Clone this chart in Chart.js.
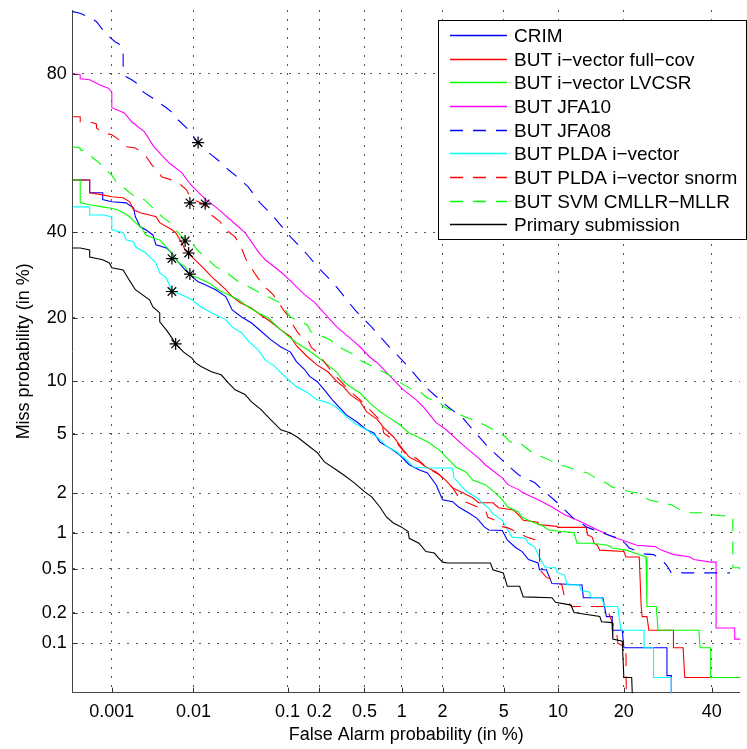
<!DOCTYPE html>
<html>
<head>
<meta charset="utf-8">
<script src="https://cdn.jsdelivr.net/npm/chart.js@4.4.1/dist/chart.umd.min.js"></script>
<style>
  html, body { margin: 0; padding: 0; background: #fff; overflow: hidden; }
  canvas { display: block; }
</style>
</head>
<body>
<canvas id="c" width="747" height="749"></canvas>
<script>
// ---------------- data (percent) ----------------
const FA_TICKS   = [0.001, 0.01, 0.1, 0.2, 0.5, 1, 2, 5, 10, 20, 40];
const MISS_TICKS = [0.1, 0.2, 0.5, 1, 2, 5, 10, 20, 40, 80];
const FA_LIMITS   = [0.0003, 47.35];
const MISS_LIMITS = [0.03, 90];

const SERIES_NAMES = ['CRIM', 'BUT i\u2212vector full\u2212cov', 'BUT i\u2212vector LVCSR', 'BUT JFA10',
  'BUT JFA08', 'BUT PLDA i\u2212vector', 'BUT PLDA i\u2212vector snorm', 'BUT SVM CMLLR\u2212MLLR', 'Primary submission'];

// each series: [False alarm %, Miss %]
const CRIM = [[0.0003,54.3],[0.00051,54.3],[0.00051,50.8],[0.00076,50.8],[0.00076,48.9],[0.001,48.3],[0.00153,48],[0.0019,46.6],[0.002,44.2],[0.0023,41.5],[0.0027,40.7],[0.0033,39.3],[0.0036,36.7],[0.0048,35.9],[0.0056,34.6],[0.006,33.6],[0.0068,32.1],[0.008,30.4],[0.0096,28.8],[0.0113,27.6],[0.0136,26.9],[0.0178,25.8],[0.023,24.3],[0.027,21.5],[0.034,20.1],[0.043,19],[0.054,17.5],[0.068,16],[0.086,14.8],[0.107,14],[0.122,12.6],[0.146,11.5],[0.163,10.6],[0.192,9.95],[0.223,9],[0.263,7.93],[0.35,6.5],[0.43,5.92],[0.52,5.3],[0.6,5.07],[0.67,4.45],[0.8,4.08],[0.96,3.68],[1.14,3.16],[1.35,2.92],[1.56,2.78],[1.8,2.3],[2.0,1.79],[2.35,1.73],[2.58,1.58],[3.0,1.43],[3.4,1.3],[3.8,1.11],[4.05,1.05],[4.9,1.04],[5.25,0.875],[5.85,0.76],[6.4,0.7],[6.95,0.6],[7.85,0.56],[8.0,0.49],[8.7,0.49],[9.3,0.37],[13.1,0.36],[13.3,0.275],[16.3,0.275],[16.9,0.183],[17.9,0.183],[17.9,0.135],[19.7,0.135],[20,0.09],[29,0.09],[29,0.046],[30,0.046],[30,0.01]];
const FULLCOV = [[0.0003,54.3],[0.00051,54.3],[0.00051,50.8],[0.00076,50.2],[0.001,49.7],[0.0014,49.4],[0.0017,48.3],[0.0019,46.1],[0.0023,45.3],[0.003,44.7],[0.0036,44.2],[0.004,42.6],[0.0056,40.7],[0.0062,39.9],[0.0073,37.3],[0.008,35.4],[0.0088,34.4],[0.0096,33.6],[0.0113,32.1],[0.0136,30.4],[0.016,28.8],[0.019,27.4],[0.023,25.8],[0.027,24.3],[0.033,23],[0.043,21.9],[0.054,20.5],[0.068,19.2],[0.086,17.7],[0.107,16.5],[0.122,15],[0.155,13.3],[0.192,12.1],[0.24,11.2],[0.29,9.95],[0.33,9.35],[0.38,8.45],[0.46,7.75],[0.52,6.8],[0.64,6.1],[0.72,5.46],[0.86,4.8],[1.03,3.95],[1.14,3.55],[1.35,3.3],[1.52,3.05],[1.8,2.82],[2.1,2.48],[2.35,2.18],[2.75,2.01],[3.2,1.85],[3.5,1.7],[4.3,1.7],[4.65,1.56],[5.7,1.5],[6.1,1.38],[6.5,1.25],[7.85,1.21],[7.85,1.16],[9.85,1.12],[9.95,1.1],[13.7,1.1],[13.9,0.96],[14.6,0.92],[14.9,0.82],[15.4,0.79],[15.8,0.72],[20,0.7],[20.4,0.63],[23,0.63],[23.4,0.228],[23.6,0.183],[24.6,0.183],[25,0.135],[30.5,0.135],[30.5,0.09],[32.8,0.09],[33.2,0.044],[48,0.044]];
const LVCSR = [[0.0003,54.3],[0.00038,54.3],[0.00038,48],[0.00051,47.5],[0.00076,46.9],[0.00093,46.6],[0.00118,46.1],[0.0014,45.3],[0.0017,44.2],[0.002,42.6],[0.0024,41.2],[0.0027,39.3],[0.0033,38.5],[0.004,38],[0.0048,36.2],[0.0056,34.6],[0.0068,32.1],[0.008,31.2],[0.009,29.2],[0.0113,28.5],[0.0148,27.4],[0.019,25.8],[0.0245,24.7],[0.0315,23.6],[0.04,22.1],[0.051,20.9],[0.0645,19.9],[0.08,18.2],[0.1,16.7],[0.122,15.5],[0.155,14.4],[0.192,13.3],[0.24,12.1],[0.29,11.1],[0.33,9.95],[0.38,9.35],[0.46,8.65],[0.55,7.65],[0.67,6.8],[0.8,6.25],[0.96,5.7],[1.14,5.07],[1.35,4.75],[1.6,4.4],[1.9,3.95],[2.12,3.55],[2.47,3.05],[2.88,2.82],[3.2,2.48],[3.85,2.3],[4.45,2.01],[4.9,1.79],[5.3,1.58],[6.1,1.45],[6.4,1.32],[7.3,1.21],[8.25,1.14],[8.95,1.05],[10.4,1.02],[12.0,1.0],[12.4,0.82],[14.6,0.82],[17.1,0.79],[17.9,0.75],[20.4,0.72],[24.4,0.63],[24.6,0.228],[26.6,0.228],[27,0.135],[36.7,0.135],[37,0.09],[39.7,0.09],[39.7,0.044],[48,0.044]];
const JFA10 = [[0.0003,80],[0.00038,79.8],[0.00038,79],[0.00051,78.8],[0.00069,77.8],[0.0009,77.1],[0.001,76.3],[0.001,72.8],[0.00145,71.6],[0.0018,69.5],[0.0026,67],[0.0034,63.2],[0.0052,58.9],[0.0073,56.3],[0.0093,53],[0.0138,48.9],[0.0178,46.9],[0.0315,41.5],[0.037,39.9],[0.051,34.9],[0.06,32.9],[0.086,29.9],[0.104,28.1],[0.146,24.7],[0.182,23],[0.251,19.6],[0.29,18.2],[0.39,16],[0.46,14.8],[0.55,13.3],[0.64,12.4],[0.86,10.2],[1.03,9],[1.29,7.93],[1.45,7.25],[1.8,5.85],[2.12,5.3],[2.9,4.08],[3.5,3.5],[3.85,3.16],[4.9,2.57],[5.3,2.3],[6.1,2.12],[6.5,2.01],[8.25,1.73],[9.3,1.58],[10.8,1.38],[11.8,1.3],[13.3,1.19],[14.5,1.11],[17.1,0.96],[18.7,0.9],[21.4,0.82],[22.5,0.79],[26.4,0.77],[27.7,0.72],[30.6,0.66],[32,0.65],[34.5,0.63],[35.4,0.6],[39.8,0.57],[41.1,0.57],[41.1,0.142],[46,0.142],[46,0.11],[48,0.11]];
const JFA08 = [[0.0003,89.8],[0.00038,89.6],[0.00055,88.9],[0.00063,88.5],[0.00076,87.4],[0.0009,86.5],[0.0011,85.6],[0.0013,85.1],[0.0014,83.5],[0.0014,81.3],[0.00153,79.4],[0.0018,78.8],[0.0023,77.6],[0.0025,76.3],[0.0032,75.1],[0.0037,74.2],[0.0048,72.8],[0.0055,71.9],[0.0062,70.5],[0.0088,67.5],[0.0113,64.3],[0.0136,62.4],[0.02,59.2],[0.0245,57.1],[0.0315,54.9],[0.04,52.4],[0.053,48],[0.067,45.3],[0.077,43.4],[0.107,38.8],[0.15,34.6],[0.205,30.4],[0.263,27.6],[0.3,25.8],[0.415,21.5],[0.575,18.2],[0.8,14.8],[1.12,11.9],[1.5,9.35],[2.18,7.25],[2.75,6.25],[3.0,5.7],[4.0,4.15],[5.1,3.25],[6.1,2.7],[7.55,2.37],[8.25,2.12],[9.7,1.75],[12.0,1.28],[13.9,1.1],[17.1,0.96],[19.7,0.875],[21,0.75],[24,0.67],[26,0.66],[27.8,0.6],[29,0.53],[30,0.46],[44.7,0.46]];
const PLDA = [[0.0003,46.9],[0.00051,46.9],[0.00051,44.7],[0.00076,44.7],[0.001,44.2],[0.001,40.7],[0.0014,39.9],[0.00153,38],[0.0019,37.5],[0.002,36.2],[0.0027,34.6],[0.0036,32.1],[0.004,29.7],[0.0048,28.5],[0.0056,25.5],[0.0073,24.7],[0.0096,23.6],[0.0122,22.1],[0.0178,20.5],[0.023,19.6],[0.027,18.2],[0.034,17.2],[0.04,15.8],[0.051,14.3],[0.06,12.8],[0.074,12],[0.086,11.1],[0.1,10.3],[0.122,9.35],[0.155,8.7],[0.192,7.93],[0.24,7.65],[0.29,7.15],[0.35,6.35],[0.43,5.7],[0.52,5.3],[0.64,4.75],[0.77,4.15],[0.91,3.85],[1.09,3.4],[1.23,3.05],[1.52,3.0],[2.35,3.0],[2.4,2.57],[2.88,2.08],[3.4,1.85],[3.8,1.64],[4.05,1.55],[4.3,1.4],[4.9,1.25],[5.3,1.05],[5.6,0.92],[6.7,0.9],[6.95,0.82],[7.55,0.76],[8.0,0.62],[8.6,0.51],[9.7,0.51],[9.95,0.46],[10.8,0.44],[11.1,0.36],[12.7,0.36],[13,0.32],[14.2,0.31],[14.5,0.275],[16.1,0.275],[16.6,0.228],[18.9,0.228],[19.1,0.183],[19.5,0.135],[24,0.135],[24,0.09],[26,0.09],[26,0.044],[30,0.044],[30,0.01]];
const SNORM = [[0.0003,70.7],[0.00038,70.7],[0.00038,69.5],[0.00055,69.3],[0.00063,68.9],[0.00063,68],[0.00076,66.8],[0.001,66.3],[0.0014,64.3],[0.00153,63.2],[0.002,62.9],[0.0024,61.7],[0.0028,60.3],[0.0032,58.4],[0.0037,57.1],[0.0042,55.2],[0.0056,54.3],[0.0071,53],[0.0083,51.6],[0.0093,49.4],[0.01,48.9],[0.0136,47.5],[0.0148,45.3],[0.02,42.8],[0.023,40.7],[0.029,38.8],[0.033,36.6],[0.038,32.9],[0.043,30.9],[0.048,29.2],[0.054,27.6],[0.061,26.2],[0.072,24.7],[0.095,21],[0.104,20.1],[0.113,18.6],[0.124,17.4],[0.13,16.9],[0.16,15.6],[0.17,14.7],[0.19,14],[0.205,13.3],[0.26,11.2],[0.38,8.8],[0.46,7.93],[0.69,5.92],[0.72,5.07],[0.86,4.58],[0.94,4.28],[1.05,3.8],[1.14,3.55],[1.29,3.5],[1.56,3.0],[1.9,2.7],[2.35,2.18],[2.6,1.85],[2.88,1.72],[3.45,1.58],[3.85,1.5],[4.0,1.32],[4.45,1.25],[4.95,1.11],[5.3,1.09],[6.1,1.0],[6.8,0.92],[7.55,0.875],[8.0,0.76],[8.0,0.49],[8.7,0.42],[9.4,0.4],[10.45,0.36],[10.8,0.275],[11.7,0.228],[16.9,0.228],[17.1,0.213],[17.9,0.16],[18.7,0.125],[18.9,0.1],[20.4,0.09],[20.5,0.01]];
const SVM = [[0.0003,63.2],[0.00038,62.9],[0.00038,62.4],[0.00051,61.7],[0.00056,60.3],[0.00069,58.9],[0.0008,57.4],[0.001,55.6],[0.00118,53.3],[0.00145,52.1],[0.0017,50.8],[0.0021,49.4],[0.0026,48.9],[0.0032,46.9],[0.0037,45.6],[0.0044,43.9],[0.0052,42.8],[0.0062,40.7],[0.0073,38.8],[0.0093,38],[0.011,35.4],[0.0136,33.6],[0.0178,31.2],[0.023,29.9],[0.0315,27.6],[0.04,26.5],[0.051,25.3],[0.0645,24.2],[0.084,23],[0.107,20.1],[0.155,18.6],[0.167,17.4],[0.251,16],[0.3,14.8],[0.41,13.6],[0.48,12.6],[0.66,11.5],[0.79,10.8],[1.03,9.6],[1.22,9],[1.4,8.7],[1.56,8.1],[1.9,7.7],[2.05,7.25],[2.47,6.7],[2.88,6.3],[3.2,6.1],[3.65,5.78],[4.6,5.15],[5.1,4.8],[5.45,4.45],[6.2,4.4],[7.3,3.8],[8.35,3.55],[9.1,3.38],[10,3.16],[11.1,3.06],[12.3,2.9],[13.9,2.78],[15.4,2.52],[16.6,2.4],[18,2.2],[19.1,2.14],[21.4,2.04],[23,2.0],[25,1.78],[26,1.75],[27.8,1.7],[30,1.64],[32.5,1.48],[34.6,1.43],[37.2,1.43],[39.5,1.38],[42,1.36],[45.5,1.34],[45.5,0.51],[48,0.51]];
const PRIMARY = [[0.0003,35.9],[0.00038,35.9],[0.00051,35.4],[0.00051,33.6],[0.00076,32.9],[0.00093,32.1],[0.001,30.9],[0.0014,30.4],[0.0017,27.8],[0.002,25.8],[0.003,23.6],[0.0033,22.1],[0.004,20.9],[0.004,19.2],[0.0048,17.7],[0.0056,16.3],[0.0062,15.3],[0.0077,14],[0.0096,13.1],[0.0106,12.4],[0.0122,11.9],[0.016,11.2],[0.0205,10.8],[0.0245,9.8],[0.029,9],[0.037,8.5],[0.043,7.75],[0.054,7],[0.068,6.1],[0.086,5.3],[0.107,5.07],[0.126,4.75],[0.163,4.15],[0.192,3.8],[0.223,3.3],[0.27,3.0],[0.33,2.7],[0.41,2.37],[0.5,2.05],[0.575,1.88],[0.67,1.58],[0.76,1.32],[0.86,1.19],[0.99,1.11],[1.12,1.02],[1.14,0.9],[1.35,0.82],[1.52,0.7],[1.75,0.68],[1.87,0.62],[2.0,0.57],[2.18,0.56],[4.15,0.56],[4.3,0.49],[4.97,0.46],[5.25,0.35],[6.2,0.35],[6.5,0.28],[9.3,0.275],[9.7,0.25],[11.6,0.235],[12,0.2],[15.8,0.183],[16.1,0.163],[17.9,0.16],[18,0.11],[19.7,0.105],[20,0.044],[21.5,0.044],[21.9,0.01]];

// minimum-cost operating points (one per series, same order as SERIES_NAMES)
const STAR_FA   = [0.0056, 0.0088, 0.0091, 0.0136, 0.0113, 0.0056, 0.0091, 0.008, 0.0062];
const STAR_MISS = [33.2, 34.6, 29.4, 47.75, 64.3, 25.4, 48, 37.7, 15.3];

// ---------------- probit (normal deviate) scale ----------------
function probit(p) {
  const a=[-3.969683028665376e+01,2.209460984245205e+02,-2.759285104469687e+02,1.383577518672690e+02,-3.066479806614716e+01,2.506628277459239e+00];
  const b=[-5.447609879822406e+01,1.615858368580409e+02,-1.556989798598866e+02,6.680131188771972e+01,-1.328068155288572e+01];
  const c=[-7.784894002430293e-03,-3.223964580411365e-01,-2.400758277161838e+00,-2.549732539343734e+00,4.374664141464968e+00,2.938163982698783e+00];
  const d=[7.784695709041462e-03,3.224671290700398e-01,2.445134137142996e+00,3.754408661907416e+00];
  const pl = 0.02425, ph = 1 - pl;
  if (p < pl) { const q = Math.sqrt(-2*Math.log(p)); return (((((c[0]*q+c[1])*q+c[2])*q+c[3])*q+c[4])*q+c[5])/((((d[0]*q+d[1])*q+d[2])*q+d[3])*q+1); }
  if (p > ph) { const q = Math.sqrt(-2*Math.log(1-p)); return -(((((c[0]*q+c[1])*q+c[2])*q+c[3])*q+c[4])*q+c[5])/((((d[0]*q+d[1])*q+d[2])*q+d[3])*q+1); }
  const q = p - 0.5, r = q*q;
  return (((((a[0]*r+a[1])*r+a[2])*r+a[3])*r+a[4])*r+a[5])*q/(((((b[0]*r+b[1])*r+b[2])*r+b[3])*r+b[4])*r+1);
}
const SCALE_SETUP = { x: { ticks: FA_TICKS, lim: FA_LIMITS }, y: { ticks: MISS_TICKS, lim: MISS_LIMITS } };

class ProbitScale extends Chart.Scale {
  determineDataLimits() { const l = SCALE_SETUP[this.id].lim; this.min = l[0]; this.max = l[1]; }
  buildTicks() { return SCALE_SETUP[this.id].ticks.map(v => ({ value: v })); }
  getLabelForValue(v) { return String(v); }
  configure() { super.configure(); this._zmin = probit(this.min/100); this._zmax = probit(this.max/100); }
  getPixelForValue(v) {
    if (v === null || v === undefined || isNaN(v)) return NaN;
    const p = Math.min(Math.max(v/100, 1e-12), 1 - 1e-12);
    return this.getPixelForDecimal((probit(p) - this._zmin) / (this._zmax - this._zmin));
  }
  getPixelForTick(i) { return this.getPixelForValue(this.ticks[i].value); }
  getValueForPixel() { return NaN; }
}
ProbitScale.id = 'probit';
ProbitScale.defaults = {};
Chart.register(ProbitScale);

// ---------------- styling ----------------
const FONT = '"Liberation Sans", Arial, Helvetica, sans-serif';
Chart.defaults.font.family = FONT;
Chart.defaults.font.size = 18;
Chart.defaults.color = '#000';

const SERIES = [CRIM, FULLCOV, LVCSR, JFA10, JFA08, PLDA, SNORM, SVM, PRIMARY];
const COLORS = ['#0000ff', '#ff0000', '#00ff00', '#ff00ff', '#0000ff', '#00ffff', '#ff0000', '#00ff00', '#000000'];
const DASHED = [false, false, false, false, true, false, true, true, false];
const DASH = [13, 10];

const datasets = SERIES.map((s, i) => ({
  label: SERIES_NAMES[i],
  data: s.map(p => ({ x: p[0], y: p[1] })),
  borderColor: COLORS[i],
  borderWidth: 1.1,
  borderDash: DASHED[i] ? DASH : [],
  pointRadius: 0,
  pointHoverRadius: 0,
  fill: false,
  tension: 0,
  order: 9 - i
}));
datasets.push({
  label: 'min DCF',
  data: STAR_FA.map((f, i) => ({ x: f, y: STAR_MISS[i] })),
  showLine: false,
  pointStyle: 'star',
  pointRadius: 6,
  pointBorderColor: '#000',
  pointBackgroundColor: '#000',
  pointBorderWidth: 1.2,
  order: -1
});

const inwardTicks = {
  id: 'inwardTicks',
  afterDatasetsDraw(chart) {
    const { ctx, chartArea: a } = chart;
    const xs = chart.scales.x, ys = chart.scales.y;
    ctx.save();
    ctx.strokeStyle = '#333';
    ctx.lineWidth = 1;
    ctx.beginPath();
    xs.ticks.forEach(t => { const px = Math.round(xs.getPixelForValue(t.value)) + 0.5; ctx.moveTo(px, a.bottom); ctx.lineTo(px, a.bottom - 5); });
    ys.ticks.forEach(t => { const py = Math.round(ys.getPixelForValue(t.value)) + 0.5; ctx.moveTo(a.left, py); ctx.lineTo(a.left + 5, py); });
    ctx.stroke();
    ctx.restore();
  }
};

const boxLegend = {
  id: 'boxLegend',
  afterDraw(chart) {
    const ctx = chart.ctx;
    const x0 = 438.5, y0 = 20.5, w = 308, h = 219;
    ctx.save();
    ctx.fillStyle = '#ffffff';
    ctx.fillRect(x0, y0, w, h);
    ctx.strokeStyle = '#000000';
    ctx.lineWidth = 1;
    ctx.setLineDash([]);
    ctx.strokeRect(x0, y0, w, h);
    ctx.font = '19px ' + FONT;
    ctx.textBaseline = 'alphabetic';
    SERIES_NAMES.forEach((name, i) => {
      const y = Math.round(35 + i * 23.67) + 0.5;
      ctx.save();
      ctx.lineWidth = 1.3;
      ctx.strokeStyle = COLORS[i];
      ctx.setLineDash(DASHED[i] ? DASH : []);
      ctx.beginPath(); ctx.moveTo(450, y); ctx.lineTo(507, y); ctx.stroke();
      ctx.restore();
      ctx.fillStyle = '#000000';
      ctx.fillText(name, 514, y + 6.5);
    });
    ctx.restore();
  }
};

const gridOpts = { color: '#555', lineWidth: 1, drawTicks: false };
const borderOpts = { display: true, color: '#444', width: 1, dash: [2, 7] };

new Chart(document.getElementById('c'), {
  type: 'line',
  data: { datasets },
  options: {
    responsive: false,
    animation: false,
    events: [],
    layout: { padding: { top: 10, left: 0, right: 0, bottom: 0 } },
    plugins: { legend: { display: false }, tooltip: { enabled: false } },
    scales: {
      x: {
        type: 'probit', position: 'bottom',
        grid: gridOpts, border: borderOpts,
        ticks: { autoSkip: false, maxRotation: 0, minRotation: 0, padding: 9, callback: v => String(v), font: { size: 18 } },
        title: { display: true, text: 'False Alarm probability (in %)', font: { size: 18 }, padding: { top: 0, bottom: 3 } },
        afterFit: s => { s.height = 749 - 692.7; s.paddingLeft = 0; s.paddingRight = 0; s.paddingTop = 0; s.paddingBottom = 0; }
      },
      y: {
        type: 'probit', position: 'left',
        grid: gridOpts, border: borderOpts,
        ticks: { autoSkip: false, padding: 6, callback: v => String(v), font: { size: 18 } },
        title: { display: true, text: 'Miss probability (in %)', font: { size: 18 }, padding: { top: 13, bottom: 0 } },
        afterFit: s => { s.width = 72.7; s.paddingLeft = 0; s.paddingRight = 0; s.paddingTop = 0; s.paddingBottom = 0; }
      }
    }
  },
  plugins: [inwardTicks, boxLegend]
});
</script>
</body>
</html>
